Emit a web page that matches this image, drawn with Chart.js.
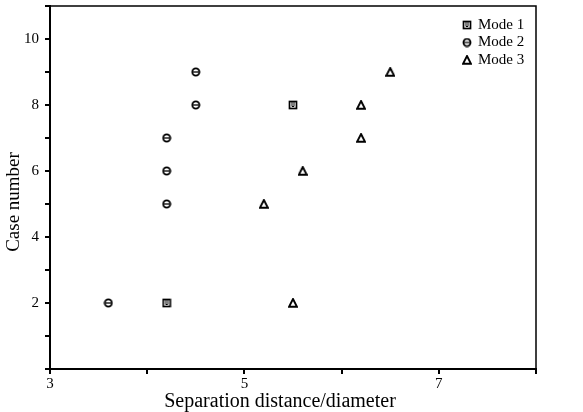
<!DOCTYPE html>
<html>
<head>
<meta charset="utf-8">
<script src="https://cdn.jsdelivr.net/npm/chart.js@4"></script>
<style>
  html, body { margin: 0; padding: 0; background: #fff; }
  #wrap { width: 583px; height: 412px; }
</style>
</head>
<body>
<div id="wrap"><canvas id="chart"></canvas></div>
<script>
// values
const mode1X = [4.2, 5.5];
const mode1Y = [2, 8];
const mode2X = [3.6, 4.2, 4.2, 4.2, 4.5, 4.5];
const mode2Y = [2, 5, 6, 7, 8, 9];
const mode3X = [5.5, 5.2, 5.6, 6.2, 6.2, 6.5];
const mode3Y = [2, 5, 6, 7, 8, 9];
const seriesNames = ['Mode 1', 'Mode 2', 'Mode 3'];
const xTickLabels = [3, 5, 7];
const yTickLabels = [2, 4, 6, 8, 10];
const xTitle = 'Separation distance/diameter';
const yTitle = 'Case number';

const serif = '"Liberation Serif", "DejaVu Serif", serif';

// small marker glyphs
function marker(kind) {
    const c = document.createElement('canvas');
    c.width = 10; c.height = 10;
    const g = c.getContext('2d');
    g.strokeStyle = '#000';
    g.lineWidth = 1.7;
    if (kind === 'square') {
        g.strokeRect(1.5, 1.5, 7, 7);
        g.beginPath();
        g.moveTo(4, 2); g.lineTo(4, 6.5); g.lineTo(6, 6.5); g.lineTo(6, 2);
        g.lineWidth = 1;
        g.stroke();
    } else if (kind === 'circle') {
        g.beginPath();
        g.arc(5, 5, 3.6, 0, Math.PI * 2);
        g.stroke();
        g.beginPath();
        g.moveTo(1.5, 5); g.lineTo(8.5, 5);
        g.lineWidth = 1.3;
        g.stroke();
    } else {
        g.beginPath();
        g.moveTo(5, 1); g.lineTo(9, 8.8); g.lineTo(1, 8.8); g.closePath();
        g.lineWidth = 1.9;
        g.stroke();
    }
    return c;
}
const markers = [marker('square'), marker('circle'), marker('triangle')];

function pts(xs, ys) {
    return xs.map((x, i) => ({ x: x, y: ys[i] }));
}

const frame = {
    id: 'frame',
    afterDraw(chart) {
        const a = chart.chartArea;
        const ctx = chart.ctx;
        ctx.save();
        ctx.strokeStyle = '#000';
        ctx.lineWidth = 1.5;
        ctx.beginPath();
        ctx.moveTo(a.left, a.top); ctx.lineTo(a.right, a.top); ctx.lineTo(a.right, a.bottom);
        ctx.stroke();
        // legend inside the plot, top right
        ctx.font = '15px ' + serif;
        ctx.fillStyle = '#000';
        ctx.textBaseline = 'middle';
        seriesNames.forEach((name, i) => {
            const y = a.top + 19 + i * 17.5;
            ctx.drawImage(markers[i], a.left + 412, y - 5);
            ctx.fillText(name, a.left + 428, y);
        });
        // axis titles (sit a bit off-centre in the original)
        ctx.font = '20px ' + serif;
        ctx.textAlign = 'center';
        ctx.fillText(xTitle, a.left + 230, a.bottom + 33);
        ctx.font = '19px ' + serif;
        ctx.translate(14, a.top + 196);
        ctx.rotate(-Math.PI / 2);
        ctx.fillText(yTitle, 0, 0);
        ctx.restore();
    }
};

new Chart(document.getElementById('chart'), {
    type: 'scatter',
    data: {
        datasets: [
            { label: seriesNames[0], data: pts(mode1X, mode1Y), pointStyle: markers[0] },
            { label: seriesNames[1], data: pts(mode2X, mode2Y), pointStyle: markers[1] },
            { label: seriesNames[2], data: pts(mode3X, mode3Y), pointStyle: markers[2] }
        ]
    },
    options: {
        responsive: true,
        maintainAspectRatio: false,
        animation: false,
        layout: { padding: { top: 6, right: 47, left: 4, bottom: 0 } },
        plugins: { legend: { display: false }, tooltip: { enabled: false } },
        scales: {
            x: {
                type: 'linear',
                min: 3, max: 8,
                border: { color: '#000', width: 2 },
                grid: { drawOnChartArea: false, drawTicks: true, tickLength: 5, color: '#000', lineWidth: 2 },
                ticks: {
                    stepSize: 1, color: '#000', padding: 1,
                    font: { family: serif, size: 15 },
                    callback: v => xTickLabels.includes(v) ? v : ''
                },
                afterFit: s => { s.height = 43; s.paddingRight = 0; }
            },
            y: {
                type: 'linear',
                min: 0, max: 11,
                border: { color: '#000', width: 2 },
                grid: { drawOnChartArea: false, drawTicks: true, tickLength: 5, color: '#000', lineWidth: 2 },
                ticks: {
                    stepSize: 1, color: '#000', padding: 6,
                    font: { family: serif, size: 15 },
                    callback: v => yTickLabels.includes(v) ? v : ''
                },
                afterFit: s => { s.width = 46; s.paddingTop = 0; s.paddingBottom = 0; }
            }
        }
    },
    plugins: [frame]
});
</script>
</body>
</html>
